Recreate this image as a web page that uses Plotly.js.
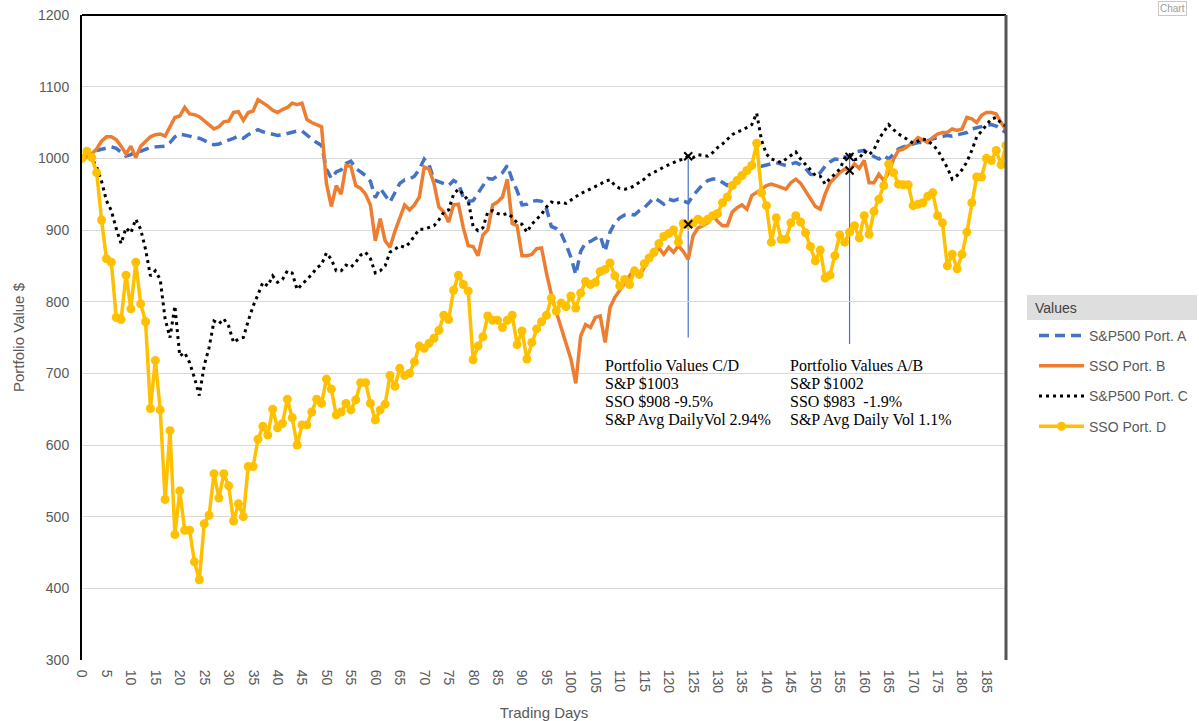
<!DOCTYPE html>
<html>
<head>
<meta charset="utf-8">
<script src="https://cdn.plot.ly/plotly-3.0.1.min.js"></script>
<style>html,body{margin:0;padding:0;background:#fff;}#chart{width:1199px;height:721px;}</style>
</head>
<body>
<div id="chart"></div>
<script>
const seriesNames = ["S&P500 Port. A", "SSO Port. B", "S&P500 Port. C", "SSO Port. D"];

const portA = [1000,1003,1007,1011,1013,1015,1016,1014,1009,1003,1005,1010,1010,1013,1015,1016,1016,1017,1022,1030,
1034,1033,1031,1029,1028,1025,1021,1019,1020,1023,1025,1028,1031,1028,1033,1036,1040,1037,1035,1033,
1032,1033,1035,1037,1038,1038,1032,1027,1022,1018,985,972,981,984,993,996,986,981,976,968,
945,958,948,939,952,965,970,971,975,985,999,991,970,967,964,962,969,965,945,940,
941,952,962,972,971,975,980,990,970,955,935,936,940,941,940,930,905,902,895,880,
862,838,870,882,884,888,892,870,897,910,917,921,922,921,927,931,938,945,941,936,
943,941,943,941,938,948,957,964,969,971,971,966,962,965,972,978,984,987,990,989,
991,993,994,992,990,992,994,991,986,978,976,980,989,995,999,998,1002,1002,1009,1010,
1011,1006,1002,999,1004,999,1006,1013,1016,1018,1020,1022,1022,1025,1027,1029,1031,1032,1031,1033,
1034,1036,1041,1043,1045,1046,1047,1045,1040,1036];

const portB = [1000,1001,1006,1013,1024,1030,1030,1026,1017,1006,1017,1001,1017,1024,1030,1033,1034,1031,1043,1057,
1059,1071,1062,1061,1058,1052,1046,1041,1044,1051,1052,1064,1065,1053,1064,1066,1082,1078,1073,1067,
1064,1068,1071,1077,1075,1077,1054,1050,1047,1044,965,933,962,950,990,989,962,958,950,935,
885,916,885,876,898,918,935,928,935,946,988,985,965,932,925,911,935,936,903,878,
877,864,893,900,935,939,946,971,909,906,864,864,866,874,875,840,810,786,764,745,
720,686,752,768,764,778,780,743,792,806,817,826,836,845,836,848,859,866,875,866,
876,869,878,870,859,892,903,906,910,921,912,906,906,925,931,935,929,948,952,957,
962,964,962,959,957,966,971,965,955,945,933,929,950,966,973,980,985,983,992,986,
997,966,966,978,969,980,999,1011,1013,1018,1022,1029,1025,1022,1029,1034,1036,1036,1041,1039,
1041,1057,1055,1050,1060,1064,1064,1062,1050,1040];

const portC = [1000,1003,1000,988,968,941,927,902,881,903,896,915,901,873,836,843,831,776,750,794,
724,729,715,694,669,711,736,773,769,776,766,743,748,750,773,794,810,827,822,836,
827,831,843,840,817,824,832,838,847,852,868,859,843,843,851,848,855,865,869,860,
840,843,850,869,873,878,876,882,892,901,901,903,906,914,925,928,950,957,950,941,
905,899,903,925,927,923,921,923,918,910,908,897,908,915,922,932,939,937,939,937,
942,946,951,954,957,960,964,968,970,962,958,957,958,962,966,971,977,980,984,988,
991,995,997,999,1003,1001,1005,1004,1003,1008,1015,1020,1027,1033,1037,1039,1043,1047,1063,1025,
1006,999,997,994,999,1004,1009,999,992,984,976,975,964,972,978,985,1000,1005,998,1000,
1010,1005,1012,1027,1037,1047,1040,1034,1030,1026,1021,1024,1027,1025,1019,1012,999,987,971,976,
984,995,1011,1030,1038,1046,1055,1057,1049,1045];

const portD = [1000,1010,1001,980,914,860,855,778,775,837,790,855,797,772,651,718,649,524,620,475,
536,481,481,437,412,490,502,560,526,560,543,494,518,500,570,570,608,626,614,650,
624,630,664,638,600,628,628,646,664,658,692,678,642,646,658,649,663,687,687,658,
635,649,657,697,682,707,697,700,716,738,735,742,749,760,781,775,816,837,824,815,
719,738,751,780,774,774,764,774,781,740,759,720,743,762,772,781,805,787,798,793,
808,791,812,828,824,827,842,845,854,836,822,831,824,843,838,853,861,869,881,891,
895,900,883,909,908,910,915,911,915,920,923,938,946,962,969,976,983,990,1021,952,
934,883,917,887,887,910,920,911,896,877,857,872,833,837,864,893,883,897,906,889,
920,894,926,943,962,992,980,964,963,963,934,936,938,947,952,920,910,850,866,846,
866,897,938,974,974,1000,997,1011,991,1018];

const days = portA.map((_, i) => i);
const tickDays = [];
for (let t = 0; t <= 185; t += 5) tickDays.push(t);

// call-out markers and guide lines
const calloutDays = [124, 124, 157, 157];
const calloutValues = [1003, 908, 1002, 983];
const guideDays = [124, 157];
const guideLow = [750, 741];
const guideHigh = [1003, 1005];

const noteCD = ["Portfolio Values C/D", "S&P $1003", "SSO $908 -9.5%", "S&P Avg DailyVol 2.94%"];
const noteAB = ["Portfolio Values A/B", "S&P $1002", "SSO $983  -1.9%", "S&P Avg Daily Vol 1.1%"];

const traces = [
  {x: days, y: portA, name: seriesNames[0], type: 'scatter', mode: 'lines', legendgroup: 'a',
   line: {color: '#4472C4', width: 3.5, dash: '10px,6px'}},
  {x: days, y: portB, name: seriesNames[1], type: 'scatter', mode: 'lines', legendgroup: 'b',
   line: {color: '#ED7D31', width: 3.5}},
  {x: days, y: portC, name: seriesNames[2], type: 'scatter', mode: 'lines', legendgroup: 'c',
   line: {color: '#000000', width: 3, dash: '3px,4px'}},
  {x: days, y: portD, name: seriesNames[3], type: 'scatter', mode: 'lines+markers', legendgroup: 'd',
   line: {color: '#FFC000', width: 3.5}, marker: {color: '#FFC000', size: 9}},
  {x: calloutDays, y: calloutValues, type: 'scatter', mode: 'markers', showlegend: false, hoverinfo: 'skip',
   marker: {symbol: 'x-thin', size: 8, line: {color: '#000', width: 2}, color: '#000'}}
];

const L = 82, R = 1006, T = 15, B = 660;
const px = x => (x - L) / (R - L);
const py = y => (B - y) / (B - T);

const shapes = guideDays.map((d, k) => ({
  type: 'line', xref: 'x', yref: 'y', x0: d, x1: d, y0: guideLow[k], y1: guideHigh[k],
  line: {color: '#4472C4', width: 1.2}, layer: 'below'
}));
shapes.push({type: 'line', xref: 'paper', yref: 'paper', x0: 0, x1: 1, y0: 1, y1: 1, line: {color: '#000', width: 2}});
shapes.push({type: 'line', xref: 'paper', yref: 'paper', x0: 1, x1: 1, y0: 0, y1: 1, line: {color: '#555', width: 3}});
shapes.push({type: 'rect', xref: 'paper', yref: 'paper', x0: px(1027), x1: px(1197), y0: py(320), y1: py(295),
  line: {width: 0}, fillcolor: '#dedede'});

const serifFont = {family: 'Liberation Serif, Times New Roman, serif', size: 16, color: '#000'};
const annotations = [
  {xref: 'paper', yref: 'paper', x: px(1033), y: py(308), xanchor: 'left', yanchor: 'middle',
   text: 'Values', showarrow: false, font: {size: 14, color: '#404040'}},
  {xref: 'paper', yref: 'paper', x: px(1158), y: 1, yanchor: 'top', xanchor: 'left',
   text: 'Chart', showarrow: false, bordercolor: '#c8c8c8', borderwidth: 1, borderpad: 1,
   font: {size: 10, color: '#9a9a9a'}, yshift: 14}
];
noteCD.forEach((t, k) => annotations.push({xref: 'paper', yref: 'paper', x: px(603), y: py(365 + k * 18.4),
  xanchor: 'left', yanchor: 'middle', align: 'left', text: t, showarrow: false, font: serifFont}));
noteAB.forEach((t, k) => annotations.push({xref: 'paper', yref: 'paper', x: px(788), y: py(365 + k * 18.4),
  xanchor: 'left', yanchor: 'middle', align: 'left', text: t, showarrow: false, font: serifFont}));

const layout = {
  width: 1199, height: 721,
  margin: {l: L, r: 1199 - R, t: T, b: 721 - B, autoexpand: false},
  paper_bgcolor: '#fff', plot_bgcolor: '#fff',
  font: {family: 'Liberation Sans, Arial, sans-serif', color: '#595959', size: 14},
  showlegend: true,
  xaxis: {
    range: [0, 189], tickmode: 'array', tickvals: tickDays, ticktext: tickDays.map(String),
    tickangle: 90, showgrid: false, zeroline: false, showline: false,
    ticks: 'outside', ticklen: 6, tickcolor: 'rgba(0,0,0,0)',
    tickfont: {size: 14, color: '#595959'},
    title: {text: 'Trading Days', font: {size: 15, color: '#595959'}, standoff: 16}
  },
  yaxis: {
    range: [300, 1200], dtick: 100, tick0: 300, showgrid: true, gridcolor: '#d9d9d9', gridwidth: 1,
    zeroline: false, showline: true, linecolor: '#000', linewidth: 2,
    ticks: 'outside', ticklen: 8, tickcolor: 'rgba(0,0,0,0)',
    tickfont: {size: 14, color: '#595959'},
    title: {text: 'Portfolio Value $', font: {size: 15, color: '#595959'}, standoff: 10}
  },
  legend: {
    x: px(1034), y: py(320), xanchor: 'left', yanchor: 'top', tracegroupgap: 9, itemwidth: 45,
    bgcolor: 'rgba(0,0,0,0)', font: {size: 14, color: '#595959'}
  },
  shapes: shapes,
  annotations: annotations
};

Plotly.newPlot('chart', traces, layout, {displayModeBar: false, staticPlot: true});
</script>
</body>
</html>
